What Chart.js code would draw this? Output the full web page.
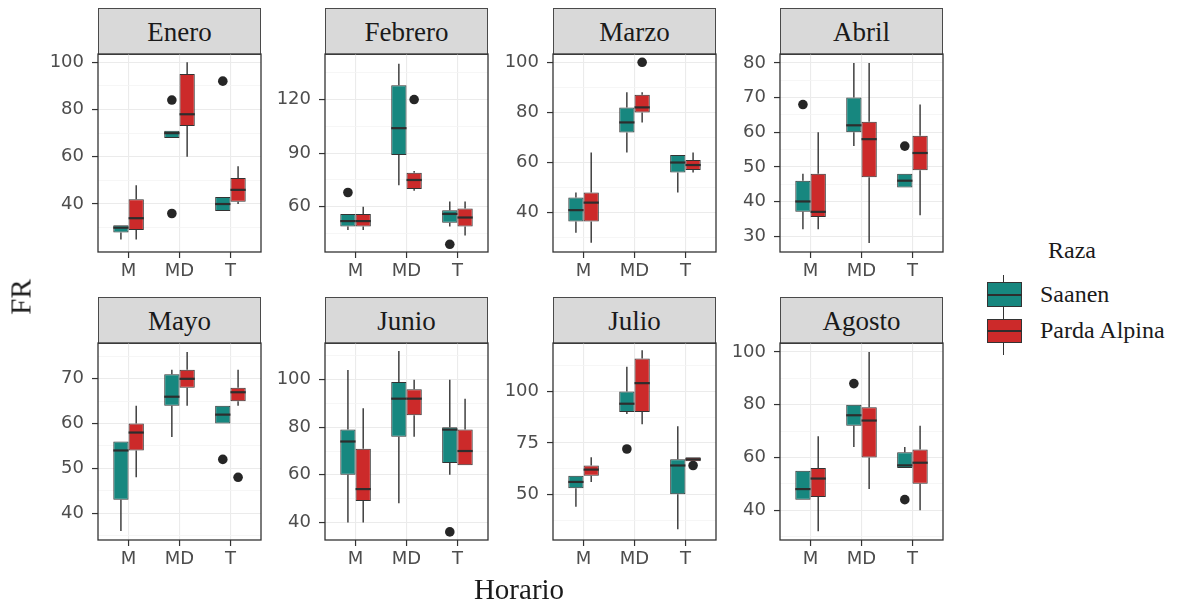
<!DOCTYPE html>
<html><head><meta charset="utf-8">
<script src="https://cdn.jsdelivr.net/npm/chart.js@4.4.0/dist/chart.umd.min.js"></script>
<style>
html,body{margin:0;padding:0;background:#fff;}
#wrap{position:relative;width:1178px;height:606px;overflow:hidden;background:#fff;}
canvas{position:absolute;}
.strip{position:absolute;box-sizing:border-box;background:#D9D9D9;border:1px solid #4a4a4a;display:flex;align-items:center;justify-content:center;font-family:'Liberation Serif',serif;font-size:27px;color:#1a1a1a;line-height:1;padding-top:2px;}
.t{position:absolute;font-family:'Liberation Serif',serif;color:#1a1a1a;line-height:1;white-space:nowrap;}
.key{position:absolute;}
</style></head><body><div id="wrap"></div>
<script>
// ---------------- DATA ----------------
const months = ['Enero','Febrero','Marzo','Abril','Mayo','Junio','Julio','Agosto'];
const horario = ['M','MD','T'];
const razas = ['Saanen','Parda Alpina'];
const razaColors = ['#17877f','#cc2a2a'];

// five-number summaries per horario: [low whisker, Q1, median, Q3, high whisker]
const eneroSaanen   = [[25,28,30,31,31],[68,68,70,71,71],[37,37,40,43,43]];
const eneroParda    = [[25,29,34,42,48],[60,73,78,95,100],[40,41,46,51,56]];
const febreroSaanen = [[47,49,52,56,56],[72,89,104,128,140],[49,51,56,58,63]];
const febreroParda  = [[47,49,52,56,60],[69,70,75,79,80],[44,49,54,59,63]];
const marzoSaanen   = [[32,36.5,41,46,48],[64,72,76,82,88],[48,56,60,63,63]];
const marzoParda    = [[28,36.5,44,48,64],[76,80,82,87,88],[56,57,59,61,64]];
const abrilSaanen   = [[32,37,40,46,48],[56,60,62,70,80],[44,44,46,48,48]];
const abrilParda    = [[32,35.5,37,48,60],[28,47,58,63,80],[36,49,54,59,68]];
const mayoSaanen    = [[36,43,54,56,56],[57,64,66,71,72],[60,60,62,64,64]];
const mayoParda     = [[48,54,58,60,64],[64,68,70,72,76],[64,65,67,68,72]];
const junioSaanen   = [[40,60,74,79,104],[48,76,92,99,112],[60,65,79,80,100]];
const junioParda    = [[40,49,54,71,88],[76,85,92,96,100],[64,64,70,79,92]];
const julioSaanen   = [[44,53,56,59,59],[89,90,94,100,112],[33,50,64,67,83]];
const julioParda    = [[56,59,62,64,68],[84,90,104,116,120],[66,66,67,68,68]];
const agostoSaanen  = [[44,44,48,55,55],[64,72,76,80,80],[56,56,57,62,64]];
const agostoParda   = [[32,45,52,56,68],[48,60,74,79,100],[40,50,58,63,72]];

// outliers per horario
const eneroSaanenOut   = [[],[84,36],[92]];
const eneroPardaOut    = [[],[],[]];
const febreroSaanenOut = [[68],[],[39]];
const febreroPardaOut  = [[],[120],[]];
const marzoSaanenOut   = [[],[],[]];
const marzoPardaOut    = [[],[100],[]];
const abrilSaanenOut   = [[68],[],[56]];
const abrilPardaOut    = [[],[],[]];
const mayoSaanenOut    = [[],[],[52]];
const mayoPardaOut     = [[],[],[48]];
const junioSaanenOut   = [[],[],[36]];
const junioPardaOut    = [[],[],[]];
const julioSaanenOut   = [[],[72],[]];
const julioPardaOut    = [[],[],[64]];
const agostoSaanenOut  = [[],[88],[44]];
const agostoPardaOut   = [[],[],[]];

// y tick labels and y range per panel
const eneroTicks   = [40,60,80,100];      const eneroRange   = [19.7,103.5];
const febreroTicks = [60,90,120];         const febreroRange = [34.7,145.5];
const marzoTicks   = [40,60,80,100];      const marzoRange   = [24.3,103.3];
const abrilTicks   = [30,40,50,60,70,80]; const abrilRange   = [25.4,82.6];
const mayoTicks    = [40,50,60,70];       const mayoRange    = [34,78];
const junioTicks   = [40,60,80,100];      const junioRange   = [32.6,115.4];
const julioTicks   = [50,75,100];         const julioRange   = [27.8,123.5];
const agostoTicks  = [40,60,80,100];      const agostoRange  = [28.7,103.4];

// ---------------- BUILD ----------------
const panelStats = [
  [eneroSaanen, eneroParda],[febreroSaanen, febreroParda],[marzoSaanen, marzoParda],[abrilSaanen, abrilParda],
  [mayoSaanen, mayoParda],[junioSaanen, junioParda],[julioSaanen, julioParda],[agostoSaanen, agostoParda]];
const panelOut = [
  [eneroSaanenOut, eneroPardaOut],[febreroSaanenOut, febreroPardaOut],[marzoSaanenOut, marzoPardaOut],[abrilSaanenOut, abrilPardaOut],
  [mayoSaanenOut, mayoPardaOut],[junioSaanenOut, junioPardaOut],[julioSaanenOut, julioPardaOut],[agostoSaanenOut, agostoPardaOut]];
const panelTicks = [eneroTicks,febreroTicks,marzoTicks,abrilTicks,mayoTicks,junioTicks,julioTicks,agostoTicks];
const panelRange = [eneroRange,febreroRange,marzoRange,abrilRange,mayoRange,junioRange,julioRange,agostoRange];

const wrap = document.getElementById('wrap');
const plotLefts = [98,325,553,780];
const plotTops = [54,343];
const plotHs = [198,197];
const plotW = 163;
const AXW = 62, AXH = 36, PADT = 12, PADR = 6;
const tickFont = {family:'DejaVu Sans', size:18};
const tickColor = '#4d4d4d';

function tickList(major, range){
  const step = major.length > 1 ? major[1]-major[0] : 10;
  const out = [];
  const first = major[0] - step/2;
  for (let v = first - step*3; v <= range[1]; v += step/2){
    if (v < range[0]) continue;
    const isMajor = major.some(m => Math.abs(m - v) < 1e-9);
    out.push({value: v, minor: !isMajor});
  }
  return out;
}

function makeBoxPlugin(stats, outs){
  return {
    id: 'boxes',
    afterDatasetsDraw(chart){
      const {ctx, chartArea} = chart;
      const ys = chart.scales.y;
      ctx.save();
      ctx.beginPath();
      ctx.rect(chartArea.left, chartArea.top, chartArea.width, chartArea.height);
      ctx.clip();
      stats.forEach((ser, d) => {
        const meta = chart.getDatasetMeta(d);
        ser.forEach((s, j) => {
          const el = meta.data[j];
          const x = el.x, w = el.width;
          ctx.strokeStyle = '#333';
          ctx.lineWidth = 1.4;
          ctx.beginPath();
          ctx.moveTo(x, ys.getPixelForValue(s[4])); ctx.lineTo(x, ys.getPixelForValue(s[3]));
          ctx.moveTo(x, ys.getPixelForValue(s[1])); ctx.lineTo(x, ys.getPixelForValue(s[0]));
          ctx.stroke();
          const ym = ys.getPixelForValue(s[2]);
          ctx.lineWidth = 2.2;
          ctx.strokeStyle = '#2d2d2d';
          ctx.beginPath();
          ctx.moveTo(x - w/2, ym); ctx.lineTo(x + w/2, ym);
          ctx.stroke();
          (outs[d][j] || []).forEach(v => {
            ctx.fillStyle = '#262626';
            ctx.beginPath();
            ctx.arc(x, ys.getPixelForValue(v), 4.8, 0, Math.PI*2);
            ctx.fill();
          });
        });
      });
      ctx.restore();
      ctx.save();
      ctx.strokeStyle = '#333';
      ctx.lineWidth = 1.3;
      ctx.strokeRect(chartArea.left, chartArea.top, chartArea.width, chartArea.height);
      ctx.restore();
    }
  };
}

months.forEach((m, p) => {
  const col = p % 4, row = Math.floor(p / 4);
  const pl = plotLefts[col], pt = plotTops[row], ph = plotHs[row];
  const strip = document.createElement('div');
  strip.className = 'strip';
  strip.style.left = pl + 'px';
  strip.style.top = (pt - 46) + 'px';
  strip.style.width = plotW + 'px';
  strip.style.height = '47px';
  strip.textContent = m;
  wrap.appendChild(strip);
  const cv = document.createElement('canvas');
  const cw = AXW + plotW + PADR, ch = PADT + ph + AXH;
  cv.width = cw; cv.height = ch;
  cv.style.width = cw + 'px'; cv.style.height = ch + 'px';
  cv.style.left = (pl - AXW) + 'px';
  cv.style.top = (pt - PADT) + 'px';
  wrap.appendChild(cv);

  const stats = panelStats[p], outs = panelOut[p];
  const yt = tickList(panelTicks[p], panelRange[p]);

  new Chart(cv.getContext('2d'), {
    type: 'bar',
    data: {
      datasets: razas.map((r, d) => ({
        label: r,
        data: stats[d].map((s, j) => ({x: j, y: [s[1], s[3]]})),
        backgroundColor: razaColors[d],
        borderColor: '#333',
        borderWidth: 1,
        borderSkipped: false,
        categoryPercentage: 0.6,
        barPercentage: 1
      }))
    },
    options: {
      responsive: false,
      animation: false,
      events: [],
      layout: {padding: {left: 0, top: PADT, right: PADR, bottom: 0}},
      plugins: {legend: {display: false}, tooltip: {enabled: false}},
      scales: {
        x: {
          type: 'linear', min: -0.6, max: 2.6, bounds: 'data', offset: false,
          afterBuildTicks: s => { s.ticks = horario.map((h, i) => ({value: i})); },
          ticks: {callback: v => horario[v], autoSkip: false, maxRotation: 0, color: tickColor, font: tickFont, padding: 3},
          grid: {offset: false, color: '#EBEBEB', lineWidth: 1.1, tickLength: 6, tickColor: '#333', tickWidth: 1.2},
          border: {display: false},
          afterFit: s => { s.height = AXH; s.paddingLeft = 0; s.paddingRight = 0; }
        },
        y: {
          type: 'linear', min: panelRange[p][0], max: panelRange[p][1], bounds: 'data',
          afterBuildTicks: s => { s.ticks = yt.map(t => ({value: t.value, minor: t.minor})); },
          ticks: {callback: (v, i, t) => (t[i] && t[i].minor) ? '' : String(v), autoSkip: false, color: tickColor, font: tickFont, padding: 8},
          grid: {
            offset: false,
            color: c => (c.tick && c.tick.minor) ? '#F4F4F4' : '#EBEBEB',
            lineWidth: c => (c.tick && c.tick.minor) ? 0.8 : 1.1,
            tickColor: c => (c.tick && c.tick.minor) ? 'rgba(0,0,0,0)' : '#333',
            tickLength: 6, tickWidth: 1.2
          },
          border: {display: false},
          afterFit: s => { s.width = AXW; s.paddingTop = 0; s.paddingBottom = 0; }
        }
      }
    },
    plugins: [makeBoxPlugin(stats, outs)]
  });
});

function addText(txt, x, y, size, extra){
  const d = document.createElement('div');
  d.className = 't';
  d.textContent = txt;
  d.style.left = x + 'px';
  d.style.top = y + 'px';
  d.style.fontSize = size + 'px';
  d.style.transform = extra || 'translate(-50%,-50%)';
  wrap.appendChild(d);
  return d;
}
addText('FR', 21, 297, 29, 'translate(-50%,-50%) rotate(-90deg)');
addText('Horario', 519, 589, 29);
addText('Raza', 1072, 250, 24);

function addKey(color, wTop, wBot, bTop, bH, label, labelY){
  const wl = document.createElement('div');
  wl.className = 'key';
  Object.assign(wl.style, {left: '1003px', top: wTop + 'px', width: '1.4px', height: (wBot - wTop) + 'px', background: '#333'});
  wrap.appendChild(wl);
  const bx = document.createElement('div');
  bx.className = 'key';
  Object.assign(bx.style, {left: '987px', top: bTop + 'px', width: '35px', height: bH + 'px', background: color, border: '1px solid #333', boxSizing: 'border-box'});
  wrap.appendChild(bx);
  const md = document.createElement('div');
  md.className = 'key';
  Object.assign(md.style, {left: '987px', top: (bTop + bH/2 - 1) + 'px', width: '35px', height: '2px', background: '#2d2d2d'});
  wrap.appendChild(md);
  addText(label, 1040, labelY, 24, 'translate(0,-50%)');
}
addKey(razaColors[0], 275, 313, 282, 25, razas[0], 294);
addKey(razaColors[1], 313, 355, 319, 24, razas[1], 330);
</script></body></html>
